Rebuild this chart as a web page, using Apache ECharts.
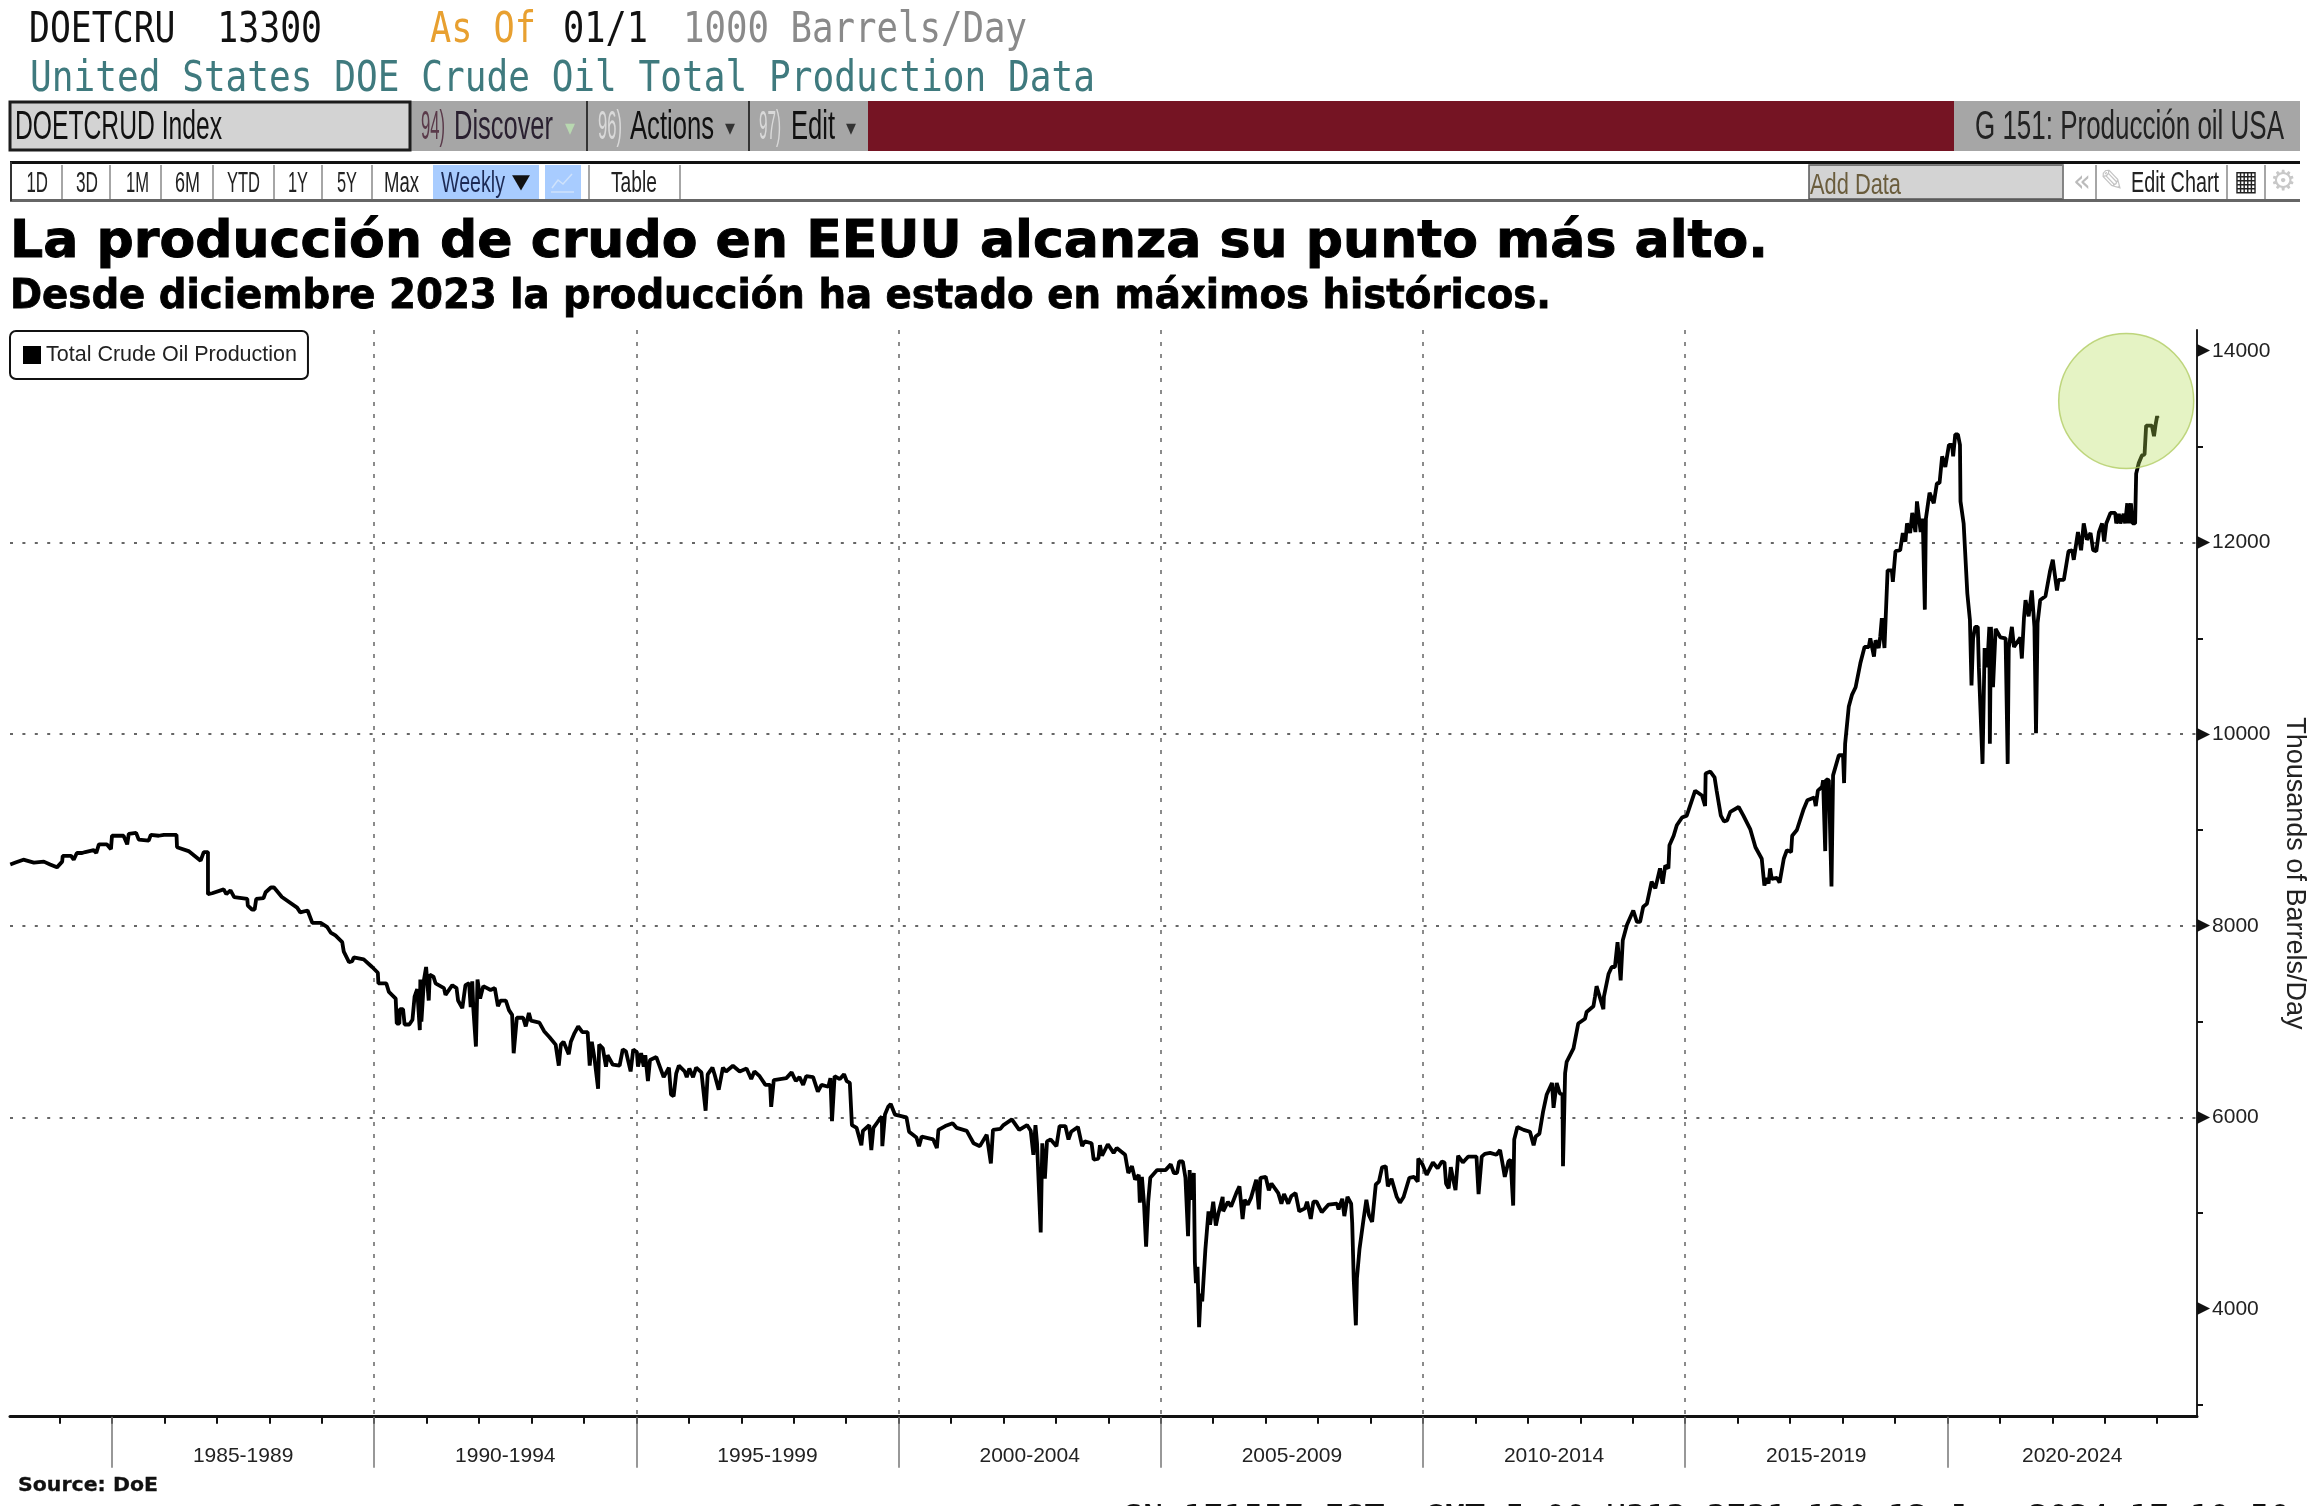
<!DOCTYPE html>
<html><head><meta charset="utf-8">
<style>html,body{margin:0;padding:0;background:#fff;overflow:hidden}#c{width:2308px;height:1506px}</style>
<script src="https://cdn.jsdelivr.net/npm/echarts@6/dist/echarts.min.js"></script>
</head><body><div id="c"></div>
<script>
const years = [
1983.06,1983.16,1983.31,1983.51,1983.70,1983.82,1983.95,1984.05,1984.06,1984.22,1984.27,1984.33,1984.43,1984.49,1984.65,1984.70,1984.75,1984.90,1984.98,1985.00,
1985.22,1985.29,1985.32,1985.46,1985.51,1985.70,1985.74,1985.89,1985.99,1986.23,1986.24,1986.46,1986.69,1986.75,1986.83,1986.83,1986.91,1987.13,1987.18,1987.26,
1987.33,1987.58,1987.59,1987.67,1987.72,1987.75,1987.89,1987.93,1988.03,1988.09,1988.24,1988.53,1988.59,1988.73,1988.82,1988.98,1989.10,1989.17,1989.26,1989.39,
1989.42,1989.52,1989.58,1989.61,1989.80,1989.96,1990.07,1990.08,1990.23,1990.28,1990.41,1990.43,1990.48,1990.49,1990.55,1990.58,1990.67,1990.73,1990.77,1990.82,
1990.87,1990.88,1990.90,1990.95,1990.99,1991.04,1991.06,1991.13,1991.17,1991.33,1991.36,1991.49,1991.57,1991.60,1991.68,1991.74,1991.81,1991.84,1991.87,1991.89,
1991.94,1991.97,1992.02,1992.08,1992.22,1992.30,1992.36,1992.41,1992.51,1992.57,1992.63,1992.66,1992.72,1992.84,1992.89,1992.95,
1992.99,1993.15,1993.24,1993.34,1993.46,1993.52,1993.56,1993.61,1993.71,1993.75,1993.82,1993.89,1993.97,1994.07,1994.11,1994.15,1994.20,1994.27,1994.29,1994.36,
1994.42,1994.45,1994.55,1994.68,1994.74,1994.80,1994.89,1994.94,1995.01,1995.03,1995.09,1995.14,1995.17,1995.22,1995.26,1995.38,1995.52,1995.62,1995.66,1995.71,
1995.76,1995.81,1995.92,1995.96,1996.01,1996.08,1996.14,1996.24,1996.32,1996.36,1996.45,1996.49,1996.57,1996.65,1996.71,1996.84,1996.97,1997.10,1997.19,1997.25,
1997.35,1997.46,1997.55,1997.57,1997.62,1997.86,1997.96,1998.04,1998.11,1998.18,1998.24,1998.37,1998.46,1998.53,1998.66,1998.70,1998.73,1998.78,1998.88,1998.96,
1999.01,1999.07,1999.11,1999.20,1999.29,1999.32,1999.44,1999.48,1999.52,1999.61,1999.68,1999.69,1999.74,1999.80,1999.85,1999.93,2000.15,2000.20,2000.34,2000.39,
2000.44,2000.66,2000.73,2000.76,2000.89,2001.03,2001.11,2001.30,2001.36,2001.43,2001.55,2001.68,2001.76,2001.80,2001.94,2002.00,2002.16,2002.30,2002.45,2002.52,
2002.57,2002.61,
2002.64,2002.71,2002.74,2002.79,2002.83,2002.90,2003.01,2003.07,2003.18,2003.24,2003.29,2003.42,2003.50,2003.55,2003.68,2003.72,2003.81,2003.84,2003.88,2003.99,
2004.10,2004.16,2004.32,2004.38,2004.45,2004.51,2004.58,2004.60,2004.64,2004.68,2004.72,2004.76,2004.80,2004.93,2005.09,2005.19,2005.25,2005.31,2005.35,2005.42,
2005.47,2005.52,2005.55,2005.58,2005.63,2005.65,2005.67,2005.70,2005.73,2005.76,2005.79,2005.85,2005.91,2005.94,2006.00,2006.05,2006.10,2006.18,2006.19,2006.28,
2006.34,2006.44,2006.50,2006.56,2006.60,2006.66,2006.72,2006.82,2006.87,2006.90,2007.00,2007.06,2007.11,2007.24,2007.30,2007.35,2007.43,2007.49,2007.57,2007.64,
2007.75,2007.79,2007.86,2007.91,2007.97,2008.07,2008.20,2008.36,2008.39,2008.46,2008.50,2008.56,2008.63,2008.65,2008.68,2008.72,2008.74,2008.79,2008.86,2008.92,
2008.97,2009.03,2009.10,2009.16,2009.22,2009.29,2009.33,2009.40,2009.50,2009.56,2009.63,2009.74,2009.83,2009.90,2009.91,2009.99,2010.07,2010.19,2010.28,2010.36,
2010.41,2010.44,2010.49,2010.53,2010.57,2010.62,2010.67,2010.76,2010.86,2011.02,2011.06,2011.12,2011.18,2011.28,2011.40,2011.47,2011.51,2011.56,2011.63,2011.67,
2011.72,2011.74,2011.80,2011.92,2012.04,2012.11,2012.15,2012.22,2012.29,
2012.36,2012.46,2012.49,2012.55,2012.61,2012.66,2012.67,2012.71,2012.74,2012.87,2012.96,2013.09,2013.12,2013.25,2013.28,2013.31,2013.44,2013.45,2013.54,2013.60,
2013.66,2013.71,2013.77,2013.81,2013.89,2014.01,2014.08,2014.14,2014.20,2014.27,2014.36,2014.43,2014.52,2014.57,2014.62,2014.68,2014.70,2014.78,2014.84,2014.94,
2015.03,2015.19,2015.32,2015.38,2015.39,2015.48,2015.56,2015.60,2015.68,2015.74,2015.80,2015.86,2016.02,2016.11,2016.24,2016.34,2016.46,2016.51,2016.55,2016.59,
2016.62,2016.65,2016.75,2016.80,2016.88,2016.94,2017.02,2017.04,2017.13,2017.26,2017.33,2017.46,2017.49,2017.53,2017.61,2017.63,2017.67,2017.69,2017.74,2017.79,
2017.82,2017.93,2018.01,2018.03,
2018.05,2018.12,2018.18,2018.25,2018.34,2018.42,2018.50,2018.53,2018.60,2018.63,2018.69,2018.72,2018.75,2018.80,2018.86,2018.94,2018.96,2019.01,2019.10,2019.15,
2019.20,2019.23,2019.29,2019.33,2019.39,2019.42,2019.49,2019.53,2019.57,2019.59,2019.66,2019.74,2019.80,2019.85,2019.90,2019.96,2020.03,2020.09,2020.11,2020.15,
2020.20,2020.24,2020.25,2020.31,2020.38,2020.43,2020.46,2020.49,2020.53,2020.58,2020.60,2020.67,2020.71,2020.76,2020.80,2020.81,2020.83,2020.87,2020.92,2021.01,
2021.11,2021.15,2021.17,2021.23,2021.27,2021.39,2021.42,2021.46,2021.49,2021.55,2021.61,2021.66,2021.69,2021.72,2021.77,2021.87,2021.96,2022.01,2022.09,2022.12,
2022.22,2022.31,2022.38,2022.41,2022.49,2022.55,2022.60,2022.66,2022.73,2022.78,2022.84,2022.89,2022.95,2022.99,2023.03,2023.11,2023.20,2023.22,2023.27,2023.30,
2023.36,2023.39,2023.43,2023.46,2023.50,2023.53,2023.58,2023.60,2023.65,2023.71,2023.76,2023.79,2023.90,2023.94,2023.97,2024.00,2024.01];
const production = [
8640,8660,8690,8660,8670,8640,8610,8670,8730,8730,8690,8760,8760,8770,8790,8760,8850,8850,8800,8940,
8940,8850,8960,8970,8900,8890,8950,8940,8950,8950,8820,8780,8680,8770,8770,8330,8340,8380,8330,8370,
8300,8280,8210,8170,8170,8280,8290,8350,8400,8400,8300,8190,8140,8160,8030,8030,7990,7930,7900,7830,
7730,7620,7630,7670,7650,7570,7510,7400,7400,7310,7240,6980,6980,7130,7130,6970,6970,7020,7260,7340,
6910,7440,7000,7440,7570,7220,7490,7470,7400,7350,7280,7380,7350,7220,7140,7380,7400,7150,7420,7140,
6740,7440,7240,7370,7330,7350,7160,7220,7220,7120,7070,6670,7040,7040,6950,7090,
7010,6990,6900,6840,6760,6540,6760,6790,6660,6790,6880,6950,6890,6890,6540,6790,6620,6300,6760,6720,
6530,6650,6550,6540,6710,6690,6480,6710,6680,6530,6670,6530,6650,6380,6600,6630,6420,6520,6240,6220,
6460,6540,6480,6420,6510,6420,6520,6470,6070,6450,6520,6450,6290,6520,6480,6540,6480,6510,6400,6480,
6430,6340,6340,6110,6390,6410,6470,6380,6420,6340,6430,6420,6270,6340,6320,6410,5960,6430,6400,6450,
6380,6360,5920,5890,5710,5860,5920,5660,5890,5960,6010,5700,6030,6110,6140,6030,6000,5850,5790,5700,
5800,5770,5680,5870,5910,5940,5890,5860,5800,5730,5700,5820,5520,5870,5880,5920,5980,5870,5920,5860,
5610,5920,
5730,4800,5730,5360,5750,5770,5700,5910,5910,5770,5850,5900,5700,5750,5730,5560,5570,5710,5600,5720,
5630,5680,5610,5420,5490,5350,5400,5110,5380,5100,4650,5120,5370,5450,5450,5510,5420,5420,5540,5540,
5370,4760,5450,5140,5420,4490,4270,4440,3810,4160,4080,4620,5020,4880,5120,4870,5000,5170,5020,5120,
5070,5210,5280,4940,5140,5090,5160,5350,5040,5370,5380,5240,5310,5210,5100,5200,5100,5180,5210,5020,
5050,5120,4940,5120,5120,5010,5090,5100,5040,5150,4970,5170,5100,4900,4300,3830,4320,4630,4910,5140,
4980,4910,5300,5330,5480,5490,5280,5360,5170,5110,5170,5370,5380,5330,5570,5510,5400,5530,5470,5540,
5530,5310,5260,5480,5370,5240,5600,5530,5590,5590,5200,5590,5620,5630,5610,5660,5540,5380,5540,5560,
5080,5770,5900,5870,5850,5710,5800,5830,6060,
6240,6360,6100,6360,6250,6240,5490,6460,6580,6720,6980,7030,7100,7160,7260,7370,7130,7260,7500,7570,
7570,7830,7430,7850,8010,8160,8040,8040,8200,8230,8460,8390,8600,8440,8630,8600,8840,8940,9050,9130,
9150,9410,9360,9250,9590,9610,9550,9410,9150,9090,9100,9190,9240,9150,9010,8820,8700,8420,8500,8440,
8600,8490,8500,8450,8700,8790,8770,8940,9000,9220,9310,9340,9250,9410,9450,9520,8780,9530,9520,8410,
9570,9780,9780,9490,
9900,10290,10410,10490,10740,10910,10910,11000,10810,10980,10900,11020,11210,10900,11710,11710,11590,11910,11920,12100,
12010,12200,12100,12310,12110,12430,12110,12250,11300,12250,12520,12410,12620,12620,12900,12790,13020,13020,12900,13130,
13130,13020,12430,12200,11470,11190,10510,11000,11120,11120,10700,9690,10900,10700,11120,9900,11120,10490,11100,11010,
11000,9690,10900,11120,10910,11010,10790,11210,11400,11230,11500,11120,10010,11160,11400,11440,11710,11820,11500,11610,
11610,11910,11920,11820,12110,11920,12200,12030,12100,11920,11910,12110,12200,12010,12200,12310,12310,12200,12300,12200,
12300,12200,12410,12200,12410,12200,12200,12720,12830,12910,12920,13220,13220,13110,13230,13320,13300];

const seriesName = 'Total Crude Oil Production';
const yearTicks = [1984,1985,1986,1987,1988,1989,1990,1991,1992,1993,1994,1995,1996,1997,1998,1999,2000,2001,2002,2003,2004,2005,2006,2007,2008,2009,2010,2011,2012,2013,2014,2015,2016,2017,2018,2019,2020,2021,2022,2023,2024];
const periodStarts = [1985,1990,1995,2000,2005,2010,2015,2020];
const periodLabels = ['1985-1989','1990-1994','1995-1999','2000-2004','2005-2009','2010-2014','2015-2019','2020-2024'];
const periodCenters = [1987.5,1992.5,1997.5,2002.5,2007.5,2012.5,2017.5,2022.38];
const valueTicks = [3000,4000,5000,6000,7000,8000,9000,10000,11000,12000,13000,14000];
const valueLabels = [4000,6000,8000,10000,12000,14000];
const highlight = [2023.41, 13478];

const NARROW = '"Liberation Sans",sans-serif';
const MONO = '"DejaVu Sans Mono",monospace';
const BOLD = '"DejaVu Sans",sans-serif';

const chart = echarts.init(document.getElementById('c'), null, {renderer:'canvas'});
const g = [];
function rect(x0,y0,x1,y1,fill,extra){g.push({type:'rect',shape:{x:x0,y:y0,width:x1-x0,height:y1-y0},style:Object.assign({fill:fill},extra||{}),silent:true,z:10});}
function vsep(x,y0,y1,c,w){g.push({type:'line',shape:{x1:x,y1:y0,x2:x,y2:y1},style:{stroke:c||'#888',lineWidth:w||1.5},silent:true,z:11});}
function fit(text,x0,x1,yc,font,fill,heavy){
  const w = echarts.format.getTextRect ? echarts.format.getTextRect(text,font).width : 0;
  const sx = w? (x1-x0)/w : 1;
  const st = {text:text,x:0,y:0,font:font,fill:fill,verticalAlign:'middle',align:'left'};
  if(heavy){st.stroke=fill;st.lineWidth=heavy;}
  g.push({type:'text',x:x0,y:yc,scaleX:sx,style:st,silent:true,z:12});
}
// header lines
const F1='42px '+MONO;
fit('DOETCRU  13300',29,322,31,F1,'#111');
fit('As Of',430,536,31,F1,'#e8a030');
fit('01/1',563,648,31,F1,'#111');
fit('1000 Barrels/Day',683,1027,31,F1,'#8a8a8a');
fit('United States DOE Crude Oil Total Production Data',30,1095,80,F1,'#3f7a7e');
// command bar
rect(410,101,868,151,'#a6a6a6');
rect(868,101,1954,151,'#751423');
rect(1954,101,2300,151,'#a6a6a6');
rect(10,102,410,150,'#d3d3d3',{stroke:'#1c1c1c',lineWidth:3});
vsep(587,101,151,'#333',2); vsep(749,101,151,'#333',2);
const F2='40px '+NARROW;
fit('DOETCRUD Index',15,222,128,F2,'#111');
fit('94)',421,445,128,F2,'#5a3a4a');
fit('Discover',454,553,128,F2,'#2a2030');
fit('▾',565,575,129,'22px '+BOLD,'#b8d8b0');
fit('96)',598,622,128,F2,'#d9d9d9');
fit('Actions',630,714,128,F2,'#111');
fit('▾',725,735,129,'22px '+BOLD,'#333');
fit('97)',759,781,128,F2,'#d9d9d9');
fit('Edit',791,835,128,F2,'#111');
fit('▾',846,856,129,'22px '+BOLD,'#333');
fit('G 151: Producción oil USA',1975,2284,128,F2,'#222');
// range bar
rect(10,162,2300,201,'#fff');
rect(10,161,2300,164,'#111');
rect(10,199,2300,202,'#666');
vsep(11,162,201,'#333',2);
rect(433,165,539,199,'#a8ccff');
rect(545,165,581,199,'#a8ccff');
g.push({type:'polyline',shape:{points:[[552,188],[558,180],[563,184],[572,174]]},style:{stroke:'#cfe2fb',fill:'none',lineWidth:1.5},silent:true,z:12});
g.push({type:'line',shape:{x1:551,y1:192,x2:574,y2:192},style:{stroke:'#cfe2fb',lineWidth:1.5},silent:true,z:12});
[62,110,161,213,274,322,372,589,680,2063,2096,2227,2265].forEach(x=>vsep(x,165,199,'#888',1.5));
const F3='29px '+NARROW;
[['1D',26.5,48],['3D',76,98],['1M',126,149],['6M',175,200],['YTD',227,260],['1Y',288,308],['5Y',337,357],['Max',384,419]].forEach(b=>fit(b[0],b[1],b[2],184,F3,'#222'));
fit('Weekly',441,505,184,F3,'#1c2a55');
fit('▼',512,530,183,'20px '+BOLD,'#111');
fit('Table',611,657,184,F3,'#222');
rect(1809,165,2063,199,'#d3d3d3',{stroke:'#555',lineWidth:1.5});
fit('Add Data',1810,1901,186,F3,'#6a5c3c');
fit('«',2073,2091,183,'30px '+BOLD,'#bbb');
fit('✎',2100,2124,183,'30px '+BOLD,'#c4c4c4');
fit('Edit Chart',2131,2219,184,F3,'#222');
fit('▦',2234,2258,183,'28px '+BOLD,'#222');
fit('⚙',2270,2296,183,'28px '+BOLD,'#c8c8c8');
// titles
fit('La producción de crudo en EEUU alcanza su punto más alto.',10,1768,243,'bold 52px '+BOLD,'#000',1);
fit('Desde diciembre 2023 la producción ha estado en máximos históricos.',10,1551,298,'bold 40px '+BOLD,'#000',0.8);
fit('Source: DoE',18,158,1486,'bold 20px '+BOLD,'#111',0.3);
fit('SN 171557 EST  GMT-5:00 H313-3731-130 12-Jan-2024 17:10:50',1123,2290,1518,'28px '+MONO,'#111');

const axisFont = {fontFamily:NARROW,fontSize:21,color:'#222'};
chart.setOption({
  animation:false,
  backgroundColor:'#fff',
  graphic:{elements:g},
  legend:{
    left:10,top:331,orient:'horizontal',data:[seriesName],
    icon:'rect',itemWidth:18,itemHeight:18,itemGap:6,
    padding:[13,11,13,13],
    backgroundColor:'#fff',borderColor:'#111',borderWidth:2,borderRadius:6,
    textStyle:{fontFamily:NARROW,fontSize:21.5,color:'#222'},z:20,selectedMode:false
  },
  grid:{left:10,top:330,width:2187,height:1086.7,containLabel:false,outerBoundsMode:'none'},
  xAxis:[{
    type:'value',min:1983.055,max:2024.76,position:'bottom',
    axisLine:{onZero:false,lineStyle:{color:'#111',width:3}},
    axisTick:{customValues:yearTicks,length:7,lineStyle:{color:'#111',width:2}},
    axisLabel:Object.assign({customValues:periodCenters,margin:29,
      formatter:v=>periodLabels[periodCenters.indexOf(v)]||''},axisFont),
    splitLine:{show:false}
  },{
    type:'value',min:1983.055,max:2024.76,position:'bottom',
    axisLine:{show:false,onZero:false},
    axisTick:{customValues:periodStarts,length:51,lineStyle:{color:'#777',width:1.5}},
    axisLabel:{show:false},
    splitLine:{show:true,showMinLine:false,showMaxLine:false,lineStyle:{color:'#666',width:1.5,type:[4,8]}}
  }],
  yAxis:[{
    type:'value',min:2876,max:14219,position:'right',
    name:'Thousands of Barrels/Day',nameLocation:'middle',nameRotate:-90,nameGap:71,
    nameTextStyle:{fontFamily:NARROW,fontSize:27,color:'#222'},
    axisLine:{onZero:false,lineStyle:{color:'#222',width:2}},
    axisTick:{customValues:valueTicks,length:6,lineStyle:{color:'#111',width:2}},
    axisLabel:{customValues:valueLabels,margin:0,
      formatter:v=>'{a|▶}{b|'+v+'}',
      rich:{a:{fontFamily:BOLD,fontSize:17,color:'#111',padding:[0,2,0,0]},b:{fontFamily:NARROW,fontSize:21,color:'#222'}}},
    splitLine:{show:false}
  },{
    type:'value',min:2876,max:14219,position:'right',
    axisLine:{show:false,onZero:false},
    axisTick:{show:false,customValues:valueLabels},
    axisLabel:{show:false},
    splitLine:{show:true,showMinLine:false,showMaxLine:false,lineStyle:{color:'#666',width:2,type:[3,9.4]}}
  }],
  series:[{
    name:seriesName,type:'line',xAxisIndex:0,yAxisIndex:0,showSymbol:false,smooth:false,
    data:years.map((y,i)=>[y,production[i]]),
    lineStyle:{color:'#000',width:3.8,join:'bevel'},itemStyle:{color:'#000'},z:3,silent:true
  },{
    name:'Highlight',type:'scatter',xAxisIndex:0,yAxisIndex:0,symbol:'circle',symbolSize:135,
    data:[highlight],
    itemStyle:{color:'rgba(177,219,80,0.42)',borderColor:'#b0cc62',borderWidth:1.5},z:4,silent:true
  }]
});
</script></body></html>
